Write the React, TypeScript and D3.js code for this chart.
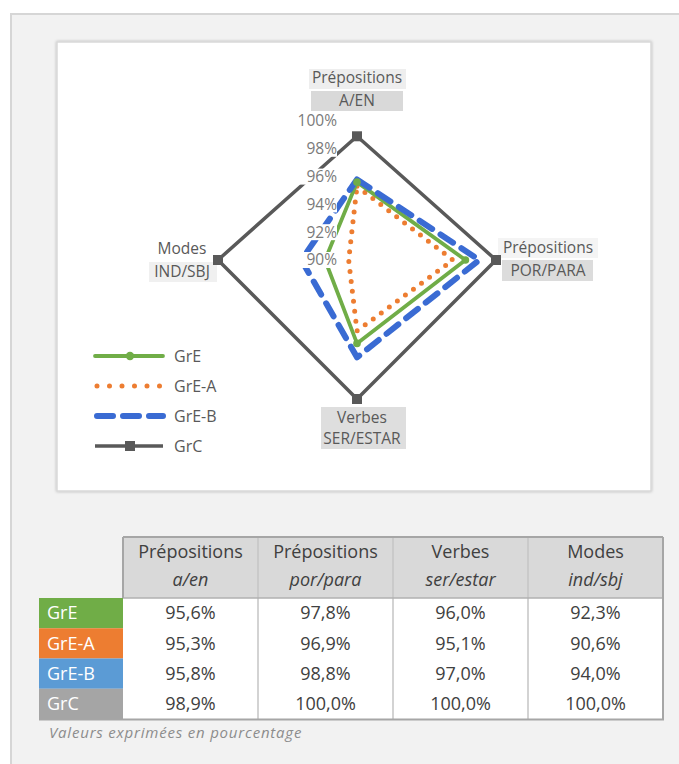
import React from "react";
import * as d3 from "d3";

const axisLine1 = ["Prépositions", "Prépositions", "Verbes", "Modes"];
const axisLine2 = ["A/EN", "POR/PARA", "SER/ESTAR", "IND/SBJ"];
const headLine1 = ["Prépositions", "Prépositions", "Verbes", "Modes"];
const headLine2 = ["a/en", "por/para", "ser/estar", "ind/sbj"];
const seriesNames = ["GrE", "GrE-A", "GrE-B", "GrC"];
const grE = [95.6, 97.8, 96.0, 92.3];
const grEA = [95.3, 96.9, 95.1, 90.6];
const grEB = [95.8, 98.8, 97.0, 94.0];
const grC = [98.9, 100.0, 100.0, 100.0];
const tickValues = [90, 92, 94, 96, 98, 100];
const seriesColors = ["#70ad47", "#ed7d31", "#3a6bd3", "#595959"];
const tableColors = ["#70ad47", "#ed7d31", "#5b9bd5", "#a5a5a5"];

const allSeries = [grE, grEA, grEB, grC];

const FONT = "'Open Sans', sans-serif";

export default function App() {
  const cx = 357;
  const cy = 260;
  const R = 139;
  const r = d3.scaleLinear().domain([90, 100]).range([0, R]);
  const angle = d3
    .scalePoint<number>()
    .domain([0, 1, 2, 3])
    .range([0, (Math.PI * 2 * 3) / 4]);
  const line = d3
    .lineRadial<number>()
    .angle((_, i) => angle(i) as number)
    .radius((d) => r(d))
    .curve(d3.curveLinearClosed);
  const pt = (v: number, i: number) => {
    const a = angle(i) as number;
    return [cx + Math.sin(a) * r(v), cy - Math.cos(a) * r(v)];
  };

  const styles = [
    { w: 3.8, dash: undefined, cap: "round" },
    { w: 5, dash: "0 10", cap: "round" },
    { w: 6, dash: "15 10", cap: "round" },
    { w: 3.5, dash: undefined, cap: "butt" },
  ];

  // table geometry
  const tx0 = 39;
  const tLab = 123;
  const tx1 = 663;
  const colX = d3.scaleBand<number>().domain([0, 1, 2, 3]).range([tLab, tx1]);
  const headTop = 537;
  const headBot = 598;
  const rowY = d3.scaleBand<number>().domain([0, 1, 2, 3]).range([headBot, 719]);
  const fmt = (v: number) => v.toFixed(1).replace(".", ",") + "%";

  // category label layout
  const catLabels = [
    { x: cx, y1: 78, y2: 101 },
    { x: cx + R + 52, y1: 248, y2: 271 },
    { x: cx + 5, y1: 418, y2: 439 },
    { x: cx - R - 36, y1: 249, y2: 272 },
  ];
  const boxes = [
    [
      { x: 309, y: 69, w: 97, h: 20, f: "#eeeeee" },
      { x: 311, y: 91, w: 92, h: 20, f: "#d9d9d9" },
    ],
    [
      { x: 498, y: 238, w: 100, h: 20, f: "#f4f4f4" },
      { x: 502, y: 260, w: 91, h: 21, f: "#dcdcdc" },
    ],
    [{ x: 321, y: 407, w: 85, h: 42, f: "#dedede" }],
    [{ x: 149, y: 262, w: 68, h: 20, f: "#f0f0f0" }],
  ];

  return (
    <svg
      width={679}
      height={764}
      style={{ position: "absolute", left: 0, top: 0 }}
      fontFamily={FONT}
    >
      <defs>
        <filter id="sh" x="-5%" y="-5%" width="110%" height="110%">
          <feGaussianBlur in="SourceAlpha" stdDeviation="1.5" />
          <feComponentTransfer>
            <feFuncA type="linear" slope="0.25" />
          </feComponentTransfer>
          <feMerge>
            <feMergeNode />
            <feMergeNode in="SourceGraphic" />
          </feMerge>
        </filter>
      </defs>
      <rect x={0} y={0} width={679} height={764} fill="#ffffff" />
      <rect x={11} y={14} width={700} height={800} fill="#f2f2f2" stroke="#d6d6d6" strokeWidth={2} />
      {/* chart area */}
      <rect x={57} y={42} width={594} height={449} fill="#ffffff" stroke="#d9d9d9" strokeWidth={1.5} filter="url(#sh)" />

      {/* category labels */}
      {boxes.map((bs, i) =>
        bs.map((b, j) => <rect key={`b${i}${j}`} x={b.x} y={b.y} width={b.w} height={b.h} fill={b.f} />)
      )}
      {catLabels.map((c, i) => (
        <g key={`c${i}`} fill="#595959" fontSize={15.5} textAnchor="middle">
          <text x={c.x} y={c.y1} dy="0.35em">{axisLine1[i]}</text>
          <text x={c.x} y={c.y2} dy="0.35em">{axisLine2[i]}</text>
        </g>
      ))}

      {/* series, GrC first so others are on top */}
      <g transform={`translate(${cx},${cy})`}>
        {[3, 1, 0, 2].map((si) => (
          <path
            key={`s${si}`}
            d={line(allSeries[si]) as string}
            fill="none"
            stroke={seriesColors[si]}
            strokeWidth={styles[si].w}
            strokeDasharray={styles[si].dash}
            strokeLinecap={styles[si].cap as any}
            strokeLinejoin="round"
          />
        ))}
      </g>
      {grC.map((v, i) => {
        const [x, y] = pt(v, i);
        return <rect key={`m${i}`} x={x - 5} y={y - 5} width={10} height={10} fill="#595959" />;
      })}
      {grE.map((v, i) => {
        const [x, y] = pt(v, i);
        return <circle key={`g${i}`} cx={x} cy={y} r={3.8} fill="#70ad47" />;
      })}

      {/* radial axis tick labels */}
      {tickValues.map((t) => (
        <g key={`t${t}`}>
          <rect x={cx - 63} y={cy - r(t) - 8} width={43} height={16} fill="#ffffff" />
          <text
            x={cx - 20}
            y={cy - r(t)}
            dy="0.35em"
            textAnchor="end"
            fontSize={15.5}
            fill="#7a7a7a"
          >
            {t}%
          </text>
        </g>
      ))}

      {/* legend */}
      {seriesNames.map((n, i) => {
        const y = 356 + i * 30;
        return (
          <g key={`l${i}`}>
            <line
              x1={i === 1 || i === 2 ? 97 : 95}
              x2={i === 1 ? 160 : 163}
              y1={y}
              y2={y}
              stroke={seriesColors[i]}
              strokeWidth={styles[i].w}
              strokeDasharray={i === 1 ? "0 12.5" : i === 2 ? "16 10" : undefined}
              strokeLinecap={styles[i].cap as any}
            />
            {i === 0 && <circle cx={130} cy={y} r={4.2} fill="#70ad47" />}
            {i === 3 && <rect x={125} y={y - 5} width={10} height={10} fill="#595959" />}
            <text x={174} y={y} dy="0.35em" fontSize={16} fill="#595959">
              {n}
            </text>
          </g>
        );
      })}

      {/* table */}
      <rect x={tLab} y={headTop} width={tx1 - tLab} height={headBot - headTop} fill="#d9d9d9" />
      <rect x={tLab} y={headBot} width={tx1 - tLab} height={719 - headBot} fill="#ffffff" />
      {seriesNames.map((n, i) => (
        <g key={`r${i}`}>
          <rect x={tx0} y={rowY(i)} width={tLab - tx0} height={rowY.bandwidth()} fill={tableColors[i]} />
          <text x={tx0 + 8} y={(rowY(i) as number) + rowY.bandwidth() / 2} dy="0.35em" fontSize={18} fill="#ffffff">
            {n}
          </text>
          {allSeries[i].map((v, j) => (
            <text
              key={`v${j}`}
              x={(colX(j) as number) + colX.bandwidth() / 2}
              y={(rowY(i) as number) + rowY.bandwidth() / 2}
              dy="0.35em"
              fontSize={18}
              fill="#404040"
              textAnchor="middle"
            >
              {fmt(v)}
            </text>
          ))}
        </g>
      ))}
      {headLine1.map((h, j) => (
        <g key={`h${j}`} textAnchor="middle" fontSize={18} fill="#404040">
          <text x={(colX(j) as number) + colX.bandwidth() / 2} y={552} dy="0.35em">{h}</text>
          <text x={(colX(j) as number) + colX.bandwidth() / 2} y={580} dy="0.35em" fontStyle="italic">
            {headLine2[j]}
          </text>
        </g>
      ))}
      {[1, 2, 3].map((j) => (
        <line key={`vs${j}`} x1={colX(j)} x2={colX(j)} y1={headTop} y2={719} stroke="#c4c4c4" strokeWidth={1.5} />
      ))}
      <line x1={tLab} x2={tx1} y1={headBot} y2={headBot} stroke="#b0b0b0" strokeWidth={1.5} />
      <line x1={tLab} x2={tx1} y1={headTop} y2={headTop} stroke="#a6a6a6" strokeWidth={2} />
      <line x1={tLab} x2={tLab} y1={headTop} y2={headBot} stroke="#a6a6a6" strokeWidth={2} />
      <line x1={tx1} x2={tx1} y1={headTop} y2={719} stroke="#a6a6a6" strokeWidth={2} />
      <line x1={tx0} x2={tx1 + 1} y1={719.5} y2={719.5} stroke="#a6a6a6" strokeWidth={2} />
      <text x={49} y={733} dy="0.35em" fontSize={15} letterSpacing={0.8} fontStyle="italic" fill="#8c8c8c">
        Valeurs exprimées en pourcentage
      </text>
    </svg>
  );
}
